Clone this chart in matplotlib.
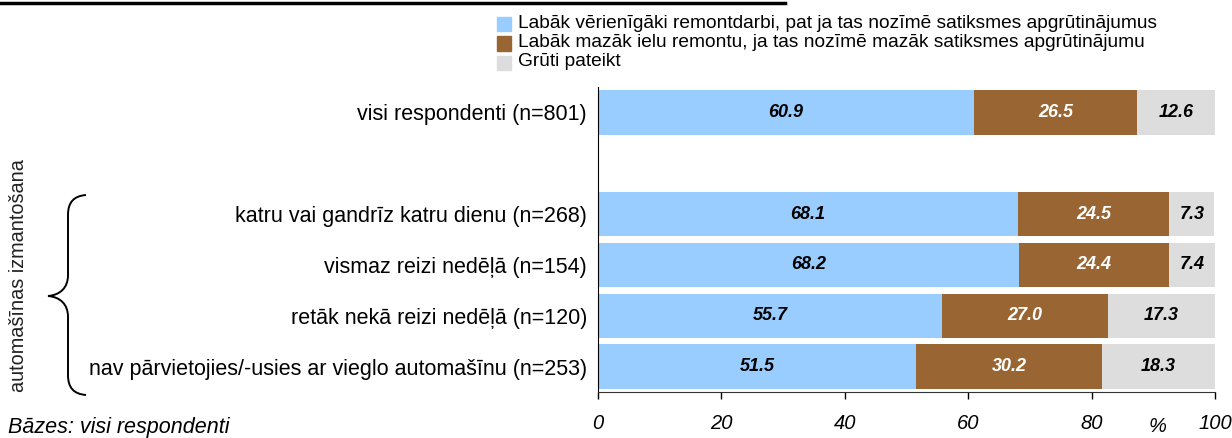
import matplotlib
matplotlib.use("Agg")
import matplotlib.pyplot as plt
from matplotlib.path import Path
from matplotlib.patches import PathPatch
from matplotlib.lines import Line2D
import numpy as np

plt.rcParams['font.family'] = ['Liberation Sans', 'DejaVu Sans']

categories = [
    "visi respondenti (n=801)",
    "",
    "katru vai gandrīz katru dienu (n=268)",
    "vismaz reizi nedēļā (n=154)",
    "retāk nekā reizi nedēļā (n=120)",
    "nav pārvietojies/-usies ar vieglo automašīnu (n=253)",
]
s_more = [60.9, None, 68.1, 68.2, 55.7, 51.5]
s_less = [26.5, None, 24.5, 24.4, 27.0, 30.2]
s_hard = [12.6, None, 7.3, 7.4, 17.3, 18.3]
series_names = [
    "Labāk vērienīgāki remontdarbi, pat ja tas nozīmē satiksmes apgrūtinājumus",
    "Labāk mazāk ielu remontu, ja tas nozīmē mazāk satiksmes apgrūtinājumu",
    "Grūti pateikt",
]
colors = ["#99CCFF", "#996633", "#DDDDDD"]
label_colors = ["black", "white", "black"]
xticks = [0, 20, 40, 60, 80, 100]

W, H = 1232, 438
fig = plt.figure(figsize=(W / 100, H / 100), dpi=100)
ax = fig.add_axes([598 / W, 1 - 392 / H, (1215 - 598) / W, (392 - 87) / H])

n = len(categories)
y = np.arange(n)
for i in range(n):
    if s_more[i] is None:
        continue
    left = 0
    for k, vals in enumerate([s_more, s_less, s_hard]):
        v = vals[i]
        ax.barh(y[i], v, left=left, height=0.87, color=colors[k], edgecolor='none')
        ax.text(left + v / 2, y[i], f"{v:.1f}", ha='center', va='center',
                fontsize=13, fontweight='bold', fontstyle='italic', color=label_colors[k])
        left += v

ax.set_ylim(n - 0.5, -0.5)
ax.set_xlim(0, 100)
ax.set_yticks(y)
ax.set_yticklabels(categories, fontsize=15.5)
ax.tick_params(axis='y', length=0, pad=8)
ax.set_xticks(xticks)
ax.set_xticklabels([str(t) for t in xticks], fontsize=14.5, fontstyle='italic')
ax.tick_params(axis='x', direction='out', length=5, pad=11, width=1)
for sp in ['top', 'right']:
    ax.spines[sp].set_visible(False)
ax.spines['left'].set_color('black')
ax.spines['bottom'].set_color('#333333')

# legend
leg_x = 497 / W
for j, name in enumerate(series_names):
    yy = 1 - (24 + j * 19.5) / H
    fig.patches.append(plt.Rectangle((leg_x, yy - 7 / H), 14 / W, 14 / H,
                                     transform=fig.transFigure, color=colors[j]))
    fig.text(518 / W, yy + 1 / H, name, fontsize=13.8, va='center', ha='left')

# top line
fig.add_artist(Line2D([0, 785 / W], [1 - 3 / H, 1 - 3 / H], color='black', lw=2.5,
                      transform=fig.transFigure))

# bracket
def P(px, py):
    return (px / W, 1 - py / H)

verts = [P(86, 195), P(74, 196), P(68, 202), P(68, 215),
         P(68, 275),
         P(68, 288), P(60, 295), P(48, 296),
         P(60, 297), P(68, 304), P(68, 317),
         P(68, 375),
         P(68, 388), P(74, 394), P(86, 395)]
codes = [Path.MOVETO, Path.CURVE4, Path.CURVE4, Path.CURVE4,
         Path.LINETO,
         Path.CURVE4, Path.CURVE4, Path.CURVE4,
         Path.CURVE4, Path.CURVE4, Path.CURVE4,
         Path.LINETO,
         Path.CURVE4, Path.CURVE4, Path.CURVE4]
fig.add_artist(PathPatch(Path(verts, codes), fill=False, lw=1.4, color='black',
                         transform=fig.transFigure))

fig.text(19 / W, 1 - 276 / H, "automašīnas izmantošana", rotation=90, fontsize=14.3,
         ha='center', va='center', color='#222222')
fig.text(8 / W, 1 - 427 / H, "Bāzes: visi respondenti", fontsize=15.5, fontstyle='italic',
         ha='left', va='center')
fig.text(1157 / W, 1 - 427 / H, "%", fontsize=14.5, fontstyle='italic', ha='center', va='center')

fig.savefig("out.png", dpi=100)
